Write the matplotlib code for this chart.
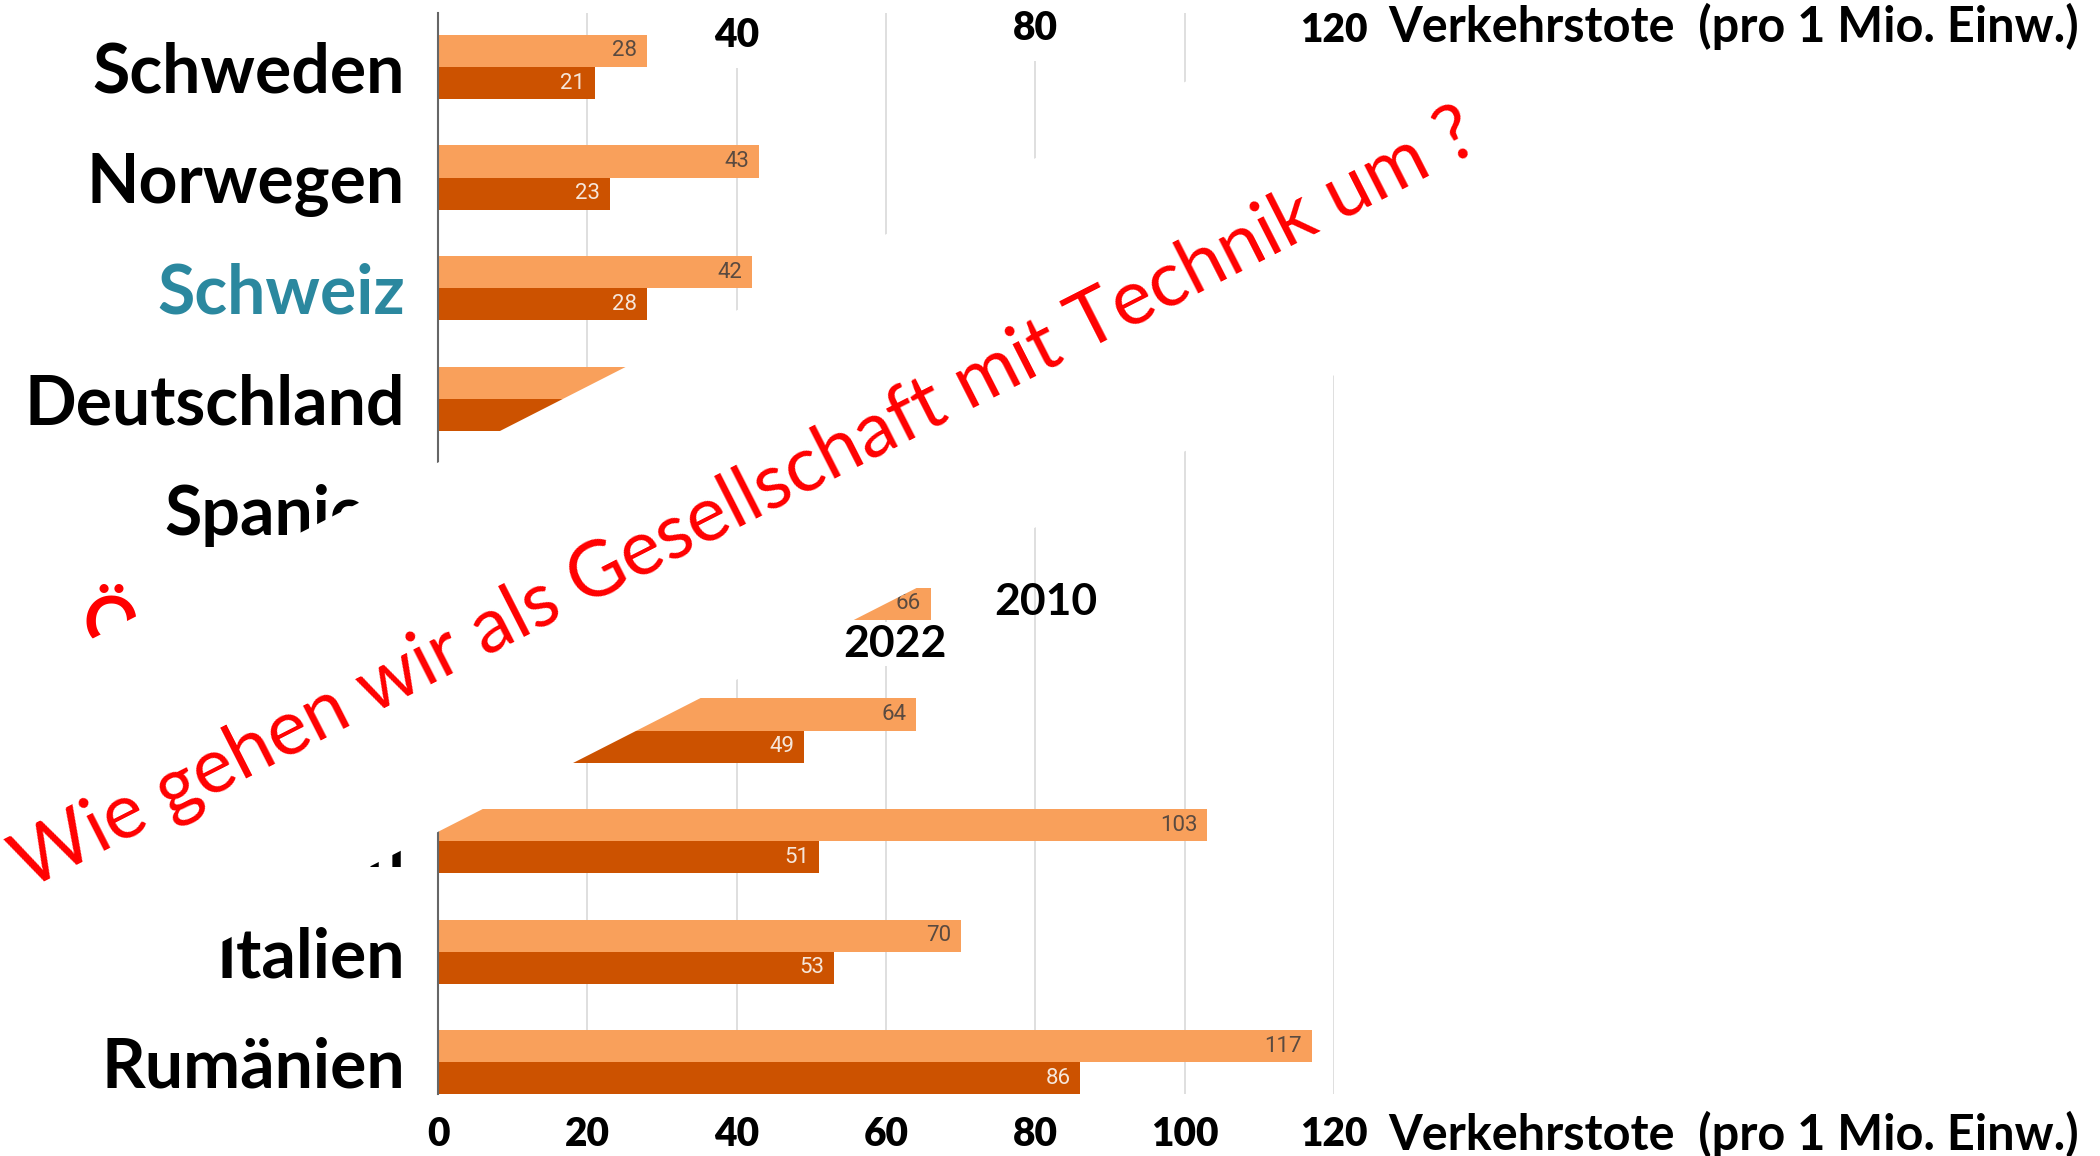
import numpy as np
import matplotlib.pyplot as plt
from matplotlib.patches import Polygon
from matplotlib.transforms import blended_transform_factory

# Verkehrstote pro 1 Mio. Einwohner, 2010 vs 2022
countries = [
    "Schweden",
    "Norwegen",
    "Schweiz",
    "Deutschland",
    "Spanien",
    "Österreich",
    "Frankreich",
    "Polen",
    "Italien",
    "Rumänien",
]
deaths_2010 = [28, 43, 42, 45, 53, 66, 64, 103, 70, 117]
deaths_2022 = [21, 23, 28, 33, 37, 41, 49, 51, 53, 86]
x_ticks = [0, 20, 40, 60, 80, 100, 120]
top_ticks = [40, 80]
label_colors = {"Schweiz": "#2B889F", "Österreich": "#FF0000"}
axis_label = "Verkehrstote  (pro 1 Mio. Einw.)"
question = "Wie gehen wir als Gesellschaft mit Technik um ?"

W, H = 2100, 1156
plt.rcParams["font.family"] = "Lato"

fig = plt.figure(figsize=(W / 100, H / 100), dpi=100)
ax = fig.add_axes([438 / W, 1 - 1094 / H, (1334 - 438) / W, (1094 - 13) / H])

y = np.arange(len(countries))
h = 0.29
bars_2010 = ax.barh(y - h / 2, deaths_2010, height=h, color="#F9A05B")
bars_2022 = ax.barh(y + h / 2, deaths_2022, height=h, color="#CC5200")

# value labels inside the bar ends
for yy, v in zip(y, deaths_2010):
    ax.annotate(str(v), xy=(v, yy - h / 2), xytext=(-7, 0), textcoords="offset points",
                ha="right", va="center", fontfamily="Roboto", fontsize=16, color="#5a4a40")
for yy, v in zip(y, deaths_2022):
    ax.annotate(str(v), xy=(v, yy + h / 2), xytext=(-7, 0), textcoords="offset points",
                ha="right", va="center", fontfamily="Roboto", fontsize=16, color="#f6e6da")

ax.set_xlim(0, 120)
ax.set_ylim(9.286, -0.488)
ax.set_xticks(x_ticks)
ax.set_xticklabels([str(t) for t in x_ticks], fontsize=28, fontweight="heavy")
ax.set_yticks(y)
ax.set_yticklabels(countries, fontsize=49, fontweight="bold")
for lab in ax.get_yticklabels():
    lab.set_color(label_colors.get(lab.get_text(), "black"))
ax.tick_params(axis="y", length=0, pad=24)
ax.tick_params(axis="x", length=0, pad=16)
ax.grid(axis="x", color="#d9d9d9", linewidth=1.2)
ax.set_axisbelow(True)
for side in ["top", "right", "bottom"]:
    ax.spines[side].set_visible(False)
ax.spines["left"].set_color("#666666")
ax.spines["left"].set_linewidth(1.5)

# axis title next to the last tick (bottom)
ax.text(127.3, -(1150 - 1094) / (1094 - 13), axis_label, transform=ax.get_xaxis_transform(),
        ha="left", va="baseline", fontsize=35, fontweight="bold")

# white diagonal band with the question
ang = np.deg2rad(27)
U = np.array([np.cos(ang), -np.sin(ang)])
V = np.array([np.sin(ang), np.cos(ang)])
corners = []
for u, v in [(-800, 611), (2200, 611), (2200, 940), (-800, 940)]:
    px, py = u * U + v * V
    corners.append((px / W, 1 - py / H))
fig.add_artist(Polygon(corners, closed=True, facecolor="white", edgecolor="none",
                       transform=fig.transFigure, zorder=1.5))
fig.text(755 / W, 1 - 519 / H, question, rotation=27, rotation_mode="anchor",
         ha="center", va="baseline", fontsize=55.5, fontweight="normal", color="#FF0000", zorder=2)

# labels on top of everything (x in data units, y in figure units)
tr = blended_transform_factory(ax.transData, fig.transFigure)
white_box = dict(facecolor="white", edgecolor="none", boxstyle="square,pad=0.35")
fig.text(top_ticks[0], 1 - 47 / H, str(top_ticks[0]), transform=tr, ha="center", va="baseline",
         fontsize=28, fontweight="heavy", bbox=white_box, zorder=3)
fig.text(top_ticks[1], 1 - 40 / H, str(top_ticks[1]), transform=tr, ha="center", va="baseline",
         fontsize=28, fontweight="heavy", bbox=white_box, zorder=3)
fig.text(120, 1 - 42 / H, "120", transform=tr, ha="center", va="baseline",
         fontsize=28, fontweight="heavy", zorder=3)
fig.text(127.3, 1 - 42 / H, axis_label, transform=tr, ha="left", va="baseline",
         fontsize=35, fontweight="bold", zorder=3)

# series names placed inside the chart
fig.text(81.4, 1 - 615 / H, "2010", transform=tr, ha="center", va="baseline",
         fontsize=32, fontweight="bold", zorder=3)
fig.text(61.2, 1 - 657 / H, "2022", transform=tr, ha="center", va="baseline",
         fontsize=32, fontweight="bold", zorder=3,
         bbox=dict(facecolor="white", edgecolor="none", boxstyle="square,pad=0.05"))

fig.savefig("out.png", dpi=100)
